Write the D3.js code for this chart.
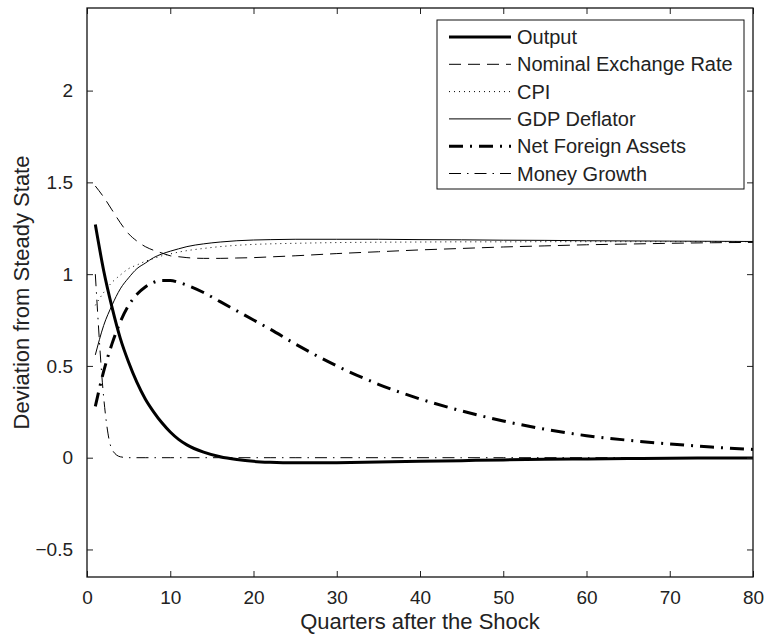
<!DOCTYPE html>
<html>
<head>
<meta charset="utf-8">
<script src="https://cdn.jsdelivr.net/npm/d3@7"></script>
<style>
  body { margin: 0; background: #fff; }
  text { font-family: "Liberation Sans", Arial, sans-serif; fill: #222; }
</style>
</head>
<body>
<div id="visualization"></div>
<script>
let quarters = [1, 2, 3, 4, 5, 6, 7, 8, 9, 10, 11, 12, 14, 16, 18, 20, 22, 25, 30, 35, 40, 45, 50, 55, 60, 65, 70, 75, 80]

let output = [1.27, 1.02, 0.82, 0.65, 0.52, 0.41, 0.32, 0.25, 0.19, 0.14, 0.10, 0.07, 0.03, 0.005, -0.01, -0.02, -0.025, -0.028, -0.027, -0.024, -0.02, -0.016, -0.012, -0.009, -0.007, -0.005, -0.003, -0.002, -0.001]
let exchangeRate = [1.48, 1.42, 1.35, 1.28, 1.22, 1.18, 1.15, 1.13, 1.115, 1.10, 1.095, 1.09, 1.086, 1.086, 1.088, 1.09, 1.094, 1.10, 1.112, 1.122, 1.132, 1.14, 1.148, 1.154, 1.16, 1.164, 1.168, 1.171, 1.173]
let cpi = [0.83, 0.90, 0.955, 0.995, 1.03, 1.05, 1.07, 1.085, 1.10, 1.11, 1.12, 1.128, 1.14, 1.15, 1.157, 1.162, 1.165, 1.168, 1.172, 1.174, 1.175, 1.176, 1.176, 1.177, 1.177, 1.177, 1.177, 1.177, 1.177]
let gdpDeflator = [0.56, 0.72, 0.83, 0.92, 0.98, 1.03, 1.06, 1.09, 1.11, 1.125, 1.138, 1.15, 1.165, 1.175, 1.182, 1.186, 1.188, 1.19, 1.19, 1.19, 1.188, 1.187, 1.185, 1.184, 1.182, 1.181, 1.18, 1.179, 1.178]
let foreignAssets = [0.28, 0.47, 0.62, 0.74, 0.83, 0.89, 0.93, 0.955, 0.965, 0.965, 0.955, 0.94, 0.90, 0.85, 0.80, 0.75, 0.70, 0.62, 0.50, 0.40, 0.32, 0.255, 0.20, 0.155, 0.12, 0.095, 0.075, 0.058, 0.045]
let moneyGrowth = [1.0, 0.33, 0.045, 0.005, 0, 0, 0, 0, 0, 0, 0, 0, 0, 0, 0, 0, 0, 0, 0, 0, 0, 0, 0, 0, 0, 0, 0, 0, 0]

let seriesNames = ['Output', 'Nominal Exchange Rate', 'CPI', 'GDP Deflator', 'Net Foreign Assets', 'Money Growth']
let seriesValues = [output, exchangeRate, cpi, gdpDeflator, foreignAssets, moneyGrowth]
let xTicks = [0, 10, 20, 30, 40, 50, 60, 70, 80]
let yTicks = [-0.5, 0, 0.5, 1, 1.5, 2]

let styles = [
  { width: 3, dash: null },
  { width: 1, dash: '12,7' },
  { width: 1, dash: '1,4' },
  { width: 1, dash: null },
  { width: 3, dash: '14,7,2,7' },
  { width: 1, dash: '12,6,1.5,6' }
]

let plot = { left: 87, right: 753, top: 8, bottom: 577 }

let svg = d3.select('#visualization')
  .append('svg')
  .attr('width', 766)
  .attr('height', 637)

let xScale = d3.scaleLinear().domain([0, 80]).range([plot.left, plot.right])
let yScale = d3.scaleLinear().domain([-0.65, 2.45]).range([plot.bottom, plot.top])

let line = d3.line()
  .x(d => xScale(d[0]))
  .y(d => yScale(d[1]))
  .curve(d3.curveMonotoneX)

seriesValues.forEach((vals, i) => {
  svg.append('path')
    .datum(quarters.map((q, j) => [q, vals[j]]))
    .attr('d', line)
    .attr('fill', 'none')
    .attr('stroke', '#000')
    .attr('stroke-width', styles[i].width)
    .attr('stroke-dasharray', styles[i].dash)
})

// axes with inner ticks on all four sides
let fmt = d => d < 0 ? '\u2212' + Math.abs(d) : d
svg.append('g')
  .attr('transform', `translate(0,${plot.bottom})`)
  .call(d3.axisBottom(xScale).tickValues(xTicks).tickSizeInner(-6).tickSizeOuter(0).tickPadding(14))
svg.append('g')
  .attr('transform', `translate(0,${plot.top})`)
  .call(d3.axisTop(xScale).tickValues(xTicks).tickSizeInner(-6).tickSizeOuter(0).tickFormat(''))
svg.append('g')
  .attr('transform', `translate(${plot.left},0)`)
  .call(d3.axisLeft(yScale).tickValues(yTicks).tickSizeInner(-6).tickSizeOuter(0).tickPadding(14).tickFormat(fmt))
svg.append('g')
  .attr('transform', `translate(${plot.right},0)`)
  .call(d3.axisRight(yScale).tickValues(yTicks).tickSizeInner(-6).tickSizeOuter(0).tickFormat(''))

svg.selectAll('.domain').remove()
svg.selectAll('.tick line').attr('stroke', '#222').attr('stroke-width', 1)
svg.selectAll('.tick text').style('font-size', '19px').attr('fill', '#222')

svg.append('rect')
  .attr('x', plot.left)
  .attr('y', plot.top)
  .attr('width', plot.right - plot.left)
  .attr('height', plot.bottom - plot.top)
  .attr('fill', 'none')
  .attr('stroke', '#111')
  .attr('stroke-width', 1.3)

svg.append('text')
  .attr('x', (plot.left + plot.right) / 2)
  .attr('y', 629)
  .attr('text-anchor', 'middle')
  .style('font-size', '22px')
  .text('Quarters after the Shock')

svg.append('text')
  .attr('transform', `translate(29, ${(plot.top + plot.bottom) / 2}) rotate(-90)`)
  .attr('text-anchor', 'middle')
  .style('font-size', '22px')
  .text('Deviation from Steady State')

// legend
let legend = svg.append('g')
legend.append('rect')
  .attr('x', 437)
  .attr('y', 20)
  .attr('width', 307)
  .attr('height', 169)
  .attr('fill', '#fff')
  .attr('stroke', '#111')
  .attr('stroke-width', 1)

seriesNames.forEach((name, i) => {
  let y = 37 + i * 27.3
  legend.append('line')
    .attr('x1', 449)
    .attr('x2', 511)
    .attr('y1', y)
    .attr('y2', y)
    .attr('stroke', '#000')
    .attr('stroke-width', styles[i].width)
    .attr('stroke-dasharray', styles[i].dash)
  legend.append('text')
    .attr('x', 517)
    .attr('y', y)
    .attr('dy', '0.35em')
    .style('font-size', '20px')
    .text(name)
})
</script>
</body>
</html>
